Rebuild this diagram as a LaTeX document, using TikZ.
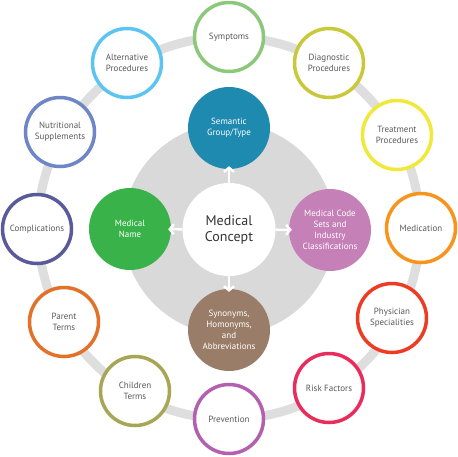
\documentclass[tikz,border=0pt]{standalone}
\usepackage{fontspec}
\setmainfont{PT Sans}
\usetikzlibrary{arrows.meta}
\definecolor{ringgray}{RGB}{222,222,222}
\definecolor{diskgray}{RGB}{217,217,217}
\definecolor{txtgray}{RGB}{88,89,91}
\definecolor{ctxt}{RGB}{51,51,51}
\definecolor{cSem}{RGB}{30,138,176}
\definecolor{cName}{RGB}{58,178,74}
\definecolor{cCode}{RGB}{198,128,184}
\definecolor{cSyn}{RGB}{154,125,104}
\definecolor{cSym}{RGB}{140,200,122}
\definecolor{cDia}{RGB}{200,200,58}
\definecolor{cTre}{RGB}{240,232,58}
\definecolor{cMed}{RGB}{247,148,29}
\definecolor{cPhy}{RGB}{236,60,36}
\definecolor{cRisk}{RGB}{234,44,92}
\definecolor{cPrev}{RGB}{178,96,176}
\definecolor{cChi}{RGB}{166,166,84}
\definecolor{cPar}{RGB}{226,114,42}
\definecolor{cComp}{RGB}{90,90,154}
\definecolor{cNut}{RGB}{110,134,198}
\definecolor{cAlt}{RGB}{92,196,240}
\begin{document}
\begin{tikzpicture}[x=1pt,y=-1pt,
  outer/.style={circle, draw, line width=3.5pt, fill=white, minimum size=69pt, inner sep=0pt, align=center, text=txtgray, font=\fontsize{9}{10.8}\selectfont},
  innerc/.style={circle, minimum size=82pt, inner sep=0pt, align=center, text=white, font=\fontsize{9}{10.8}\selectfont},
  arr/.style={draw=white, line width=2.5pt, -{Straight Barb[length=4pt,width=10pt]}, shorten >=-3pt}]
\useasboundingbox (0,0) rectangle (458,456);
\draw[ringgray, line width=9pt] (229,228) circle (191pt);
\fill[diskgray] (229,229) circle (106pt);
\node[innerc, fill=cSem] (sem) at (229,128) {Semantic\\Group/Type};
\node[innerc, fill=cName] (name) at (130,229) {Medical\\Name};
\node[innerc, fill=cCode] (code) at (330,230) {Medical Code\\Sets and\\Industry\\Classifications};
\node[innerc, fill=cSyn] (syn) at (229,330) {Synonyms,\\Homonyms,\\and\\Abbreviations};
\node[circle, fill=white, minimum size=93pt, inner sep=0pt, align=center, text=ctxt, font=\fontsize{14}{16}\selectfont] (concept) at (229,229.5) {Medical\\Concept};
\draw[arr] (concept) -- (sem);
\draw[arr] (concept) -- (name);
\draw[arr] (concept) -- (code);
\draw[arr] (concept) -- (syn);
\node[outer, draw=cSym] (sym) at (229,37) {Symptoms};
\node[outer, draw=cDia] (dia) at (329,63) {Diagnostic\\Procedures};
\node[outer, draw=cTre] (tre) at (397,135) {Treatment\\Procedures};
\node[outer, draw=cMed] (med) at (421,228) {Medication};
\node[outer, draw=cPhy] (phy) at (392,318) {Physician\\Specialities};
\node[outer, draw=cRisk] (risk) at (329,388) {Risk Factors};
\node[outer, draw=cPrev] (prev) at (229,419) {Prevention};
\node[outer, draw=cChi] (chi) at (135,391) {Children\\Terms};
\node[outer, draw=cPar] (par) at (64,322) {Parent\\Terms};
\node[outer, draw=cComp] (comp) at (37,229) {Complications};
\node[outer, draw=cNut] (nut) at (60,132) {Nutritional\\Supplements};
\node[outer, draw=cAlt] (alt) at (127,63) {Alternative\\Procedures};
\end{tikzpicture}
\end{document}
